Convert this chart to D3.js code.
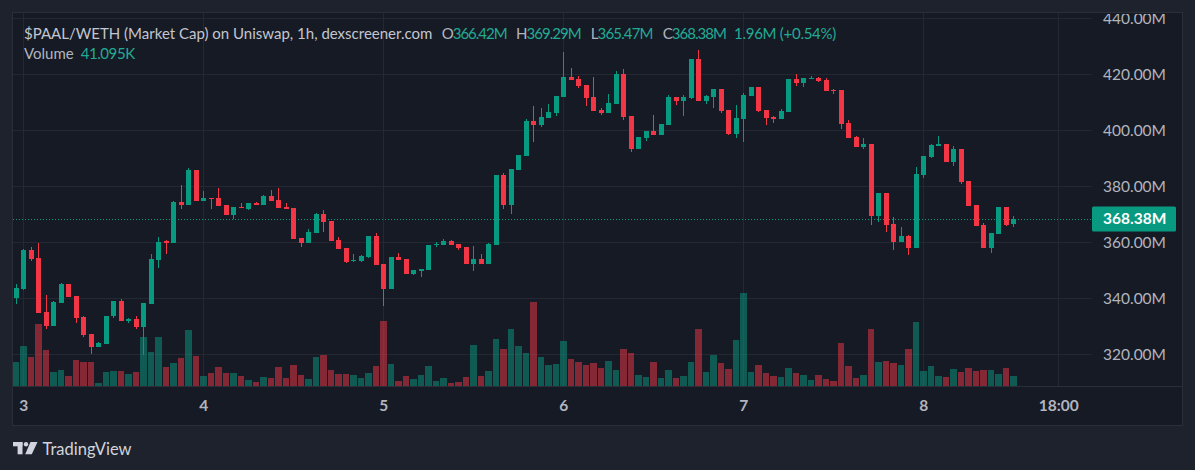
<!DOCTYPE html>
<html><head><meta charset="utf-8">
<script src="https://cdn.jsdelivr.net/npm/d3@7"></script>
<style>
html,body{margin:0;padding:0;background:#1e222d;}
svg{display:block;}
text{font-family:Lato,"Noto Sans",sans-serif;}
</style></head>
<body>
<svg id="c" width="1195" height="470"></svg>
<script>
// ---------- DATA (hourly candles, market cap in millions) ----------
const firstCandle = "2024-06-02T23:00:00Z";
const opens = [340.2,343.3,357.3,354.4,335.1,330.2,338.5,345.1,340.8,333.3,327.3,322.7,323.8,333.5,339.0,332.0,332.6,329.9,338.1,353.8,360.4,359.9,374.4,373.3,385.8,374.8,375.8,375.8,373.3,369.8,372.6,371.9,374.0,373.3,376.5,375.1,372.6,372.3,361.5,359.8,363.3,370.1,367.6,360.8,358.0,353.3,353.3,354.8,362.3,352.3,343.3,354.8,354.0,348.7,349.8,350.1,359.0,359.0,360.5,359.4,358.3,352.3,354.0,352.3,359.0,384.0,373.3,385.8,390.8,403.3,401.9,404.4,406.2,411.9,419.0,418.3,416.2,411.9,407.3,406.2,409.4,420.1,405.1,393.3,397.3,399.8,398.3,401.9,411.9,410.5,411.5,425.5,410.5,411.9,414.8,407.3,398.7,404.0,412.3,415.5,407.3,404.8,404.0,406.5,418.3,416.9,418.3,418.7,418.0,414.4,414.4,402.6,397.6,394.0,395.1,369.4,377.6,366.5,360.1,362.3,358.0,384.0,390.5,394.4,395.1,388.7,393.3,381.9,373.3,366.2,358.0,363.0,372.6,366.42];
const highs = [345.1,357.5,358.2,359.8,341.2,339.0,345.5,345.1,340.8,333.7,327.3,324.4,333.7,339.0,339.8,333.0,333.7,338.3,355.8,361.9,360.7,374.8,380.5,386.5,385.8,378.3,375.8,379.4,373.3,372.6,374.0,374.0,374.4,376.9,378.7,379.4,374.0,372.3,361.5,364.8,370.5,371.5,367.6,361.9,358.0,355.8,355.5,362.3,363.3,352.3,354.8,356.2,354.0,350.1,350.5,359.0,360.1,361.2,360.8,359.4,358.3,358.7,355.8,359.8,384.0,384.8,386.2,391.2,404.0,408.7,408.0,409.4,412.3,428.0,422.3,419.4,416.2,419.0,408.0,413.0,421.2,421.9,405.1,397.6,399.8,405.5,402.3,412.6,411.9,412.6,425.5,428.7,412.6,414.8,414.8,407.3,409.0,413.3,415.5,415.5,407.3,405.1,407.6,418.3,420.1,418.7,419.4,419.0,418.7,414.8,414.4,403.7,398.0,397.3,395.1,377.6,377.6,369.0,365.5,362.6,386.9,390.8,395.1,398.0,395.1,394.4,393.3,381.9,373.3,366.9,363.3,372.6,372.6,369.29];
const lows = [338.1,343.0,353.5,334.9,329.2,330.2,338.5,340.6,331.3,326.3,320.2,322.7,323.8,333.1,332.0,331.3,329.2,319.9,338.1,351.0,356.0,359.9,371.9,373.3,374.8,374.8,371.9,373.0,369.8,368.3,372.3,371.5,373.5,373.3,374.8,372.3,371.9,361.2,358.3,359.8,363.3,363.7,360.5,357.6,352.6,353.0,353.0,354.4,351.9,337.3,343.3,353.7,348.7,348.3,347.6,350.1,358.3,359.0,359.0,357.3,352.3,349.8,352.3,352.3,359.0,371.9,370.1,385.8,390.8,395.8,401.2,404.4,405.1,411.9,418.0,415.1,408.7,406.9,405.5,406.2,409.4,403.7,392.3,393.3,396.2,398.3,398.3,401.9,409.0,405.1,411.2,410.5,409.4,408.0,406.2,398.3,397.3,395.8,412.3,406.5,401.9,402.6,404.0,406.5,415.8,415.5,418.3,417.3,414.0,413.0,400.5,397.3,394.0,393.3,366.2,367.3,363.7,357.3,360.1,355.5,358.0,383.0,390.1,394.4,388.7,387.3,380.8,373.0,365.8,358.0,356.2,363.0,365.8,365.47];
const closes = [343.7,357.3,354.2,334.9,330.2,338.7,345.1,340.6,333.1,327.0,322.7,324.0,333.7,339.0,332.0,332.6,329.9,338.3,354.0,360.1,359.9,374.4,373.5,385.8,374.8,375.8,375.5,373.0,369.8,372.6,372.3,374.0,373.5,376.5,374.8,372.3,371.9,361.2,359.8,363.7,370.1,367.3,360.5,357.6,353.0,353.7,355.1,362.3,351.9,343.3,354.8,353.7,348.7,350.1,350.5,359.0,359.4,360.5,359.0,358.0,352.3,354.0,352.3,359.4,384.0,373.3,386.2,391.2,403.3,401.9,404.8,406.5,412.3,419.0,418.0,415.8,411.5,406.9,406.2,409.8,420.1,404.8,393.3,397.6,399.8,398.3,402.3,411.9,410.5,411.9,425.5,410.5,412.3,414.8,406.9,398.7,404.4,412.6,415.5,406.9,404.4,404.0,406.9,418.3,416.9,418.7,418.7,417.6,414.0,414.0,402.3,397.3,394.0,395.1,369.4,377.6,366.2,360.1,362.3,358.0,384.4,390.8,394.8,395.1,388.7,393.3,381.5,373.0,365.8,358.0,363.3,372.6,366.2,368.38];
// volume in thousands
const volumes = [98.4,164,118.9,254.2,147.6,57.4,65.6,41,106.6,98.4,98.4,12.3,57.4,61.5,61.5,49.2,57.4,200.9,139.4,200.9,77.9,94.3,114.8,229.6,123,41,53.3,77.9,53.3,53.3,41,24.6,16.4,36.9,32.8,77.9,32.8,86.1,45.1,28.7,118.9,127.1,65.6,49.2,49.2,45.1,32.8,53.3,82,266.5,90.2,20.5,41,28.7,45.1,82,20.5,32.8,12.3,16.4,36.9,168.1,41,61.5,192.7,151.7,233.7,164,135.3,344.4,118.9,86.1,90.2,184.5,110.7,98.4,86.1,94.3,73.8,102.5,65.6,151.7,135.3,45.1,36.9,98.4,32.8,65.6,32.8,41,98.4,233.7,57.4,127.1,94.3,69.7,188.6,381.3,57.4,86.1,53.3,41,36.9,73.8,53.3,45.1,24.6,45.1,28.7,20.5,176.3,82,32.8,45.1,233.7,98.4,102.5,94.3,86.1,151.7,262.4,61.5,82,41,36.9,69.7,57.4,73.8,61.5,65.6,65.6,49.2,73.8,41.095];
const priceTicks = [320,340,360,380,400,420,440];
const timeTicks = ["2024-06-03T00:00:00Z","2024-06-04T00:00:00Z","2024-06-05T00:00:00Z","2024-06-06T00:00:00Z","2024-06-07T00:00:00Z","2024-06-08T00:00:00Z","2024-06-08T18:00:00Z"];
const timeTickLabels = ["3","4","5","6","7","8","18:00"];
const title = "$PAAL/WETH (Market Cap) on Uniswap, 1h, dexscreener.com";
const legendKeys = ["O","H","L","C"];
const legendVals = ["366.42M","369.29M","365.47M","368.38M"];
const changeText = "1.96M (+0.54%)";
const volumeLabel = "Volume";
const volumeText = "41.095K";
const lastPrice = 368.38;

// ---------- LAYOUT ----------
const UP = "#089981", DOWN = "#f23645";
const UPV = "rgba(8,153,129,0.5)", DOWNV = "rgba(242,54,69,0.5)";
const frame = {x0:12.5, y0:12.5, x1:1182.5, y1:425.5};
const plot = {x0:13, x1:1092, y0:13, y1:386};

const svg = d3.select("#c");
svg.append("rect").attr("width",1195).attr("height",470).attr("fill","#1e222d");
svg.append("rect").attr("x",frame.x0).attr("y",frame.y0).attr("width",frame.x1-frame.x0).attr("height",frame.y1-frame.y0)
  .attr("fill","#161a25").attr("stroke","#2a2e39");

const t0 = new Date(firstCandle);
const times = opens.map((_,i)=> d3.utcHour.offset(t0,i));
const tickDates = timeTicks.map(s=>new Date(s));

const x = d3.scaleUtc().domain([tickDates[0], tickDates[tickDates.length-1]]).range([23.3,1058.3]);
const y = d3.scaleLinear().domain([320,440]).range([354.3,18.3]);
const yv = d3.scaleLinear().domain([0,41.095]).range([386,376]);

svg.append("clipPath").attr("id","pc").append("rect").attr("x",plot.x0).attr("y",plot.y0).attr("width",plot.x1-plot.x0).attr("height",plot.y1-plot.y0);
svg.append("clipPath").attr("id","ac").append("rect").attr("x",plot.x1).attr("y",14).attr("width",frame.x1-plot.x1).attr("height",plot.y1-14);

const g = svg.append("g").attr("clip-path","url(#pc)");
// grid
g.selectAll(".hg").data(priceTicks).join("line")
  .attr("x1",plot.x0).attr("x2",plot.x1)
  .attr("y1",d=>Math.round(y(d))+0.5).attr("y2",d=>Math.round(y(d))+0.5)
  .attr("stroke","#242833").attr("stroke-width",1);
g.selectAll(".vg").data(tickDates).join("line")
  .attr("y1",plot.y0).attr("y2",plot.y1)
  .attr("x1",d=>Math.round(x(d))+0.5).attr("x2",d=>Math.round(x(d))+0.5)
  .attr("stroke","#242833").attr("stroke-width",1);

// volume
const half = 3.75;
g.selectAll(".vol").data(times).join("rect")
  .attr("x",(d)=>Math.round(x(d)-half+0.5))
  .attr("width",(d)=>Math.round(x(d)+half-0.5)-Math.round(x(d)-half+0.5))
  .attr("y",(d,i)=>Math.round(yv(volumes[i])))
  .attr("height",(d,i)=>plot.y1-Math.round(yv(volumes[i])))
  .attr("fill",(d,i)=>closes[i]>=opens[i]?UPV:DOWNV);

// price line (dotted)
g.append("line").attr("x1",plot.x0).attr("x2",plot.x1)
  .attr("y1",Math.round(y(lastPrice))+0.5).attr("y2",Math.round(y(lastPrice))+0.5)
  .attr("stroke",UP).attr("stroke-width",1).attr("stroke-dasharray","1,2");

// candles
const cg = g.append("g");
cg.selectAll(".wick").data(times).join("rect")
  .attr("x",d=>Math.round(x(d)))
  .attr("width",1)
  .attr("y",(d,i)=>Math.round(y(highs[i])))
  .attr("height",(d,i)=>Math.max(1,Math.round(y(lows[i]))-Math.round(y(highs[i]))))
  .attr("fill",(d,i)=>closes[i]>=opens[i]?UP:DOWN);
cg.selectAll(".body").data(times).join("rect")
  .attr("x",d=>Math.round(x(d))-2)
  .attr("width",5)
  .attr("y",(d,i)=>Math.round(y(Math.max(opens[i],closes[i]))))
  .attr("height",(d,i)=>Math.max(1,Math.round(y(Math.min(opens[i],closes[i])))-Math.round(y(Math.max(opens[i],closes[i])))))
  .attr("fill",(d,i)=>closes[i]>=opens[i]?UP:DOWN);

// separators
svg.append("line").attr("x1",frame.x0).attr("x2",frame.x1).attr("y1",plot.y1+0.5).attr("y2",plot.y1+0.5).attr("stroke","#2a2e39");

// price axis
const yaWrap = svg.append("g").attr("clip-path","url(#ac)");
const ya = yaWrap.append("g")
  .attr("transform",`translate(${plot.x1},0)`)
  .call(d3.axisRight(y).tickValues(priceTicks).tickSize(0).tickPadding(11).tickFormat(d=>d.toFixed(2)+"M"));
ya.select(".domain").remove();
ya.selectAll("text").attr("fill","#b2b5be").attr("font-size",15.5).style("font-family","Lato,'Noto Sans',sans-serif");

// last price label
const lp = svg.append("g");
lp.append("rect").attr("x",plot.x1).attr("y",Math.round(y(lastPrice))-12.5).attr("width",84).attr("height",25).attr("rx",1.5).attr("fill",UP);
lp.append("text").attr("x",plot.x1+11).attr("y",y(lastPrice)).attr("dy","0.35em")
  .attr("fill","#ffffff").attr("font-size",15.5).attr("font-weight",700).text(lastPrice.toFixed(2)+"M");

// time axis
const xa = svg.append("g").attr("transform",`translate(0,${plot.y1})`)
  .call(d3.axisBottom(x).tickValues(tickDates).tickSize(0).tickPadding(14).tickFormat((d,i)=>timeTickLabels[i]));
xa.select(".domain").remove();
xa.selectAll("text").attr("fill","#b2b5be").attr("font-size",15.5).attr("font-weight",700).style("font-family","Lato,'Noto Sans',sans-serif");

// legend
const LG = "#b2b5be", TG = "#22ab94";
function fitText(sel, w){
  sel.attr("font-size",15);
  const len = sel.node().getComputedTextLength();
  const n = sel.text().length;
  if(len>0 && n>1) sel.attr("letter-spacing", Math.max(-1.2, Math.min(1, (w-len)/(n))));
  return sel;
}
svg.append("text").attr("x",24).attr("y",39).attr("font-size",15).attr("fill","#c3c6ce").text(title);
const keyX = [441.7,516,590.7,662.7], keyW = [65,64.7,62,63.3];
legendKeys.forEach((k,i)=>{
  const t = svg.append("text").attr("x",keyX[i]).attr("y",39);
  t.append("tspan").attr("fill",LG).text(k);
  t.append("tspan").attr("fill",TG).text(legendVals[i]);
  fitText(t, keyW[i]);
});
fitText(svg.append("text").attr("x",734).attr("y",39).attr("fill",TG).text(changeText), 102);
svg.append("text").attr("x",24).attr("y",59).attr("font-size",15).attr("fill",LG).text(volumeLabel);
fitText(svg.append("text").attr("x",80.7).attr("y",59).attr("fill",TG).text(volumeText), 54);

// TradingView logo
const logo = svg.append("g").attr("fill","#d1d4dc");
logo.append("rect").attr("x",13).attr("y",442).attr("width",9.5).attr("height",4.3);
logo.append("rect").attr("x",17.6).attr("y",442).attr("width",4.9).attr("height",12.3);
logo.append("circle").attr("cx",26).attr("cy",444.2).attr("r",2.2);
logo.append("polygon").attr("points","30.5,442 37.5,442 31.8,454.3 25.2,454.3");
svg.append("text").attr("x",42.5).attr("y",454.5).attr("font-size",16.5).attr("fill","#d1d4dc").text("TradingView");
</script>
</body></html>
